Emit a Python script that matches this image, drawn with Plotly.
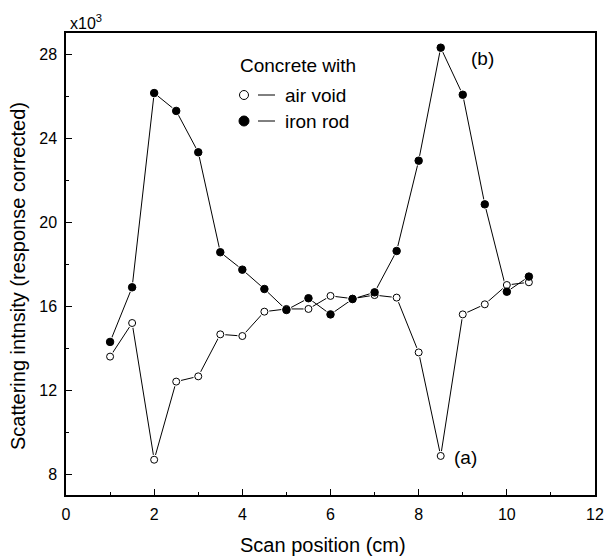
import plotly.graph_objects as go

scan_pos = [1, 1.5, 2, 2.5, 3, 3.5, 4, 4.5, 5, 5.5, 6, 6.5, 7, 7.5, 8, 8.5, 9, 9.5, 10, 10.5]
air_void = [13.59, 15.19, 8.68, 12.40, 12.65, 14.65, 14.57, 15.73, 15.86, 15.86, 16.48, 16.35,
            16.52, 16.40, 13.79, 8.86, 15.60, 16.08, 17.00, 17.13]
iron_rod = [14.29, 16.89, 26.14, 25.29, 23.32, 18.56, 17.73, 16.81, 15.81, 16.37, 15.60, 16.33,
            16.65, 18.62, 22.92, 28.30, 26.06, 20.84, 16.68, 17.40]

x_ticks = [0, 2, 4, 6, 8, 10, 12]
y_ticks = [8, 12, 16, 20, 24, 28]

FONT = "Liberation Sans, Arial, sans-serif"

W, H = 605, 557
L, R, T, B = 66, 10, 33, 62
pw, ph = W - L - R, H - T - B


def px2paper(px, py):
    return (px - L) / pw, 1 - (py - T) / ph


fig = go.Figure()

# connecting lines
for ys in (air_void, iron_rod):
    fig.add_trace(go.Scatter(x=scan_pos, y=ys, mode="lines",
                             line=dict(color="black", width=1), showlegend=False, hoverinfo="skip"))
# white halos give small gaps around the markers
for ys in (air_void, iron_rod):
    fig.add_trace(go.Scatter(x=scan_pos, y=ys, mode="markers",
                             marker=dict(symbol="circle", size=10, color="white", line=dict(width=0)),
                             showlegend=False, hoverinfo="skip"))
# markers
fig.add_trace(go.Scatter(x=scan_pos, y=air_void, mode="markers", name="air void",
                         marker=dict(symbol="circle", size=7, color="white",
                                     line=dict(color="black", width=1)), showlegend=False))
fig.add_trace(go.Scatter(x=scan_pos, y=iron_rod, mode="markers", name="iron rod",
                         marker=dict(symbol="circle", size=7.5, color="black",
                                     line=dict(color="black", width=1)), showlegend=False))

# legend-like text block
for text, px, py in (("Concrete with", 238, 65), ("air void", 283, 95), ("iron rod", 283, 121)):
    xx, yy = px2paper(px, py)
    fig.add_annotation(x=xx, y=yy, xref="paper", yref="paper", text=text, showarrow=False,
                       xanchor="left", yanchor="middle", font=dict(family=FONT, size=19, color="black"))
for py, fill in ((95, "white"), (121, "black")):
    cx, cy = px2paper(244, py)
    r = 4.5 if fill == "white" else 5
    fig.add_shape(type="circle", xref="paper", yref="paper",
                  x0=cx - r / pw, x1=cx + r / pw, y0=cy - r / ph, y1=cy + r / ph,
                  line=dict(color="black", width=1), fillcolor=fill)
    lx0, ly = px2paper(258, py)
    lx1, _ = px2paper(275, py)
    fig.add_shape(type="line", xref="paper", yref="paper", x0=lx0, x1=lx1, y0=ly, y1=ly,
                  line=dict(color="black", width=1))

# curve labels
fig.add_annotation(x=9.15, y=27.8, text="(b)", showarrow=False, xanchor="left", yanchor="middle",
                   font=dict(family=FONT, size=19, color="black"))
fig.add_annotation(x=8.75, y=8.8, text="(a)", showarrow=False, xanchor="left", yanchor="middle",
                   font=dict(family=FONT, size=19, color="black"))
# multiplier
fig.add_annotation(x=0, y=1, xref="paper", yref="paper", text="x10<sup>3</sup>", showarrow=False,
                   xanchor="left", yanchor="bottom", xshift=2, yshift=-1,
                   font=dict(family=FONT, size=16, color="black"))

# axis titles
tx, _ = px2paper(323.4, 0)
fig.add_annotation(x=tx, y=0, xref="paper", yref="paper", text="Scan position (cm)", showarrow=False,
                   xanchor="center", yanchor="middle", yshift=-50,
                   font=dict(family=FONT, size=20, color="black"))
_, ty = px2paper(0, 276)
fig.add_annotation(x=0, y=ty, xref="paper", yref="paper", text="Scattering intnsity (response corrected)",
                   showarrow=False, textangle=-90, xanchor="center", yanchor="middle", xshift=-48,
                   font=dict(family=FONT, size=20, color="black"))

fig.update_layout(
    width=W, height=H,
    margin=dict(l=L, r=R, t=T, b=B, autoexpand=False),
    paper_bgcolor="white", plot_bgcolor="white",
    font=dict(family=FONT, size=16, color="black"),
    showlegend=False,
)
fig.update_xaxes(range=[0, 12], tickvals=x_ticks, ticktext=[str(v) for v in x_ticks],
                 ticks="inside", ticklen=6, tickwidth=1, tickcolor="black",
                 minor=dict(dtick=1, ticks="inside", ticklen=3, tickcolor="black"),
                 showline=True, linecolor="black", linewidth=1.5, mirror=True,
                 showgrid=False, zeroline=False, automargin=False,
                 ticklabelstandoff=4, tickfont=dict(size=16))
fig.update_yaxes(range=[7, 29], tickvals=y_ticks, ticktext=[str(v) for v in y_ticks],
                 ticks="inside", ticklen=6, tickwidth=1, tickcolor="black",
                 minor=dict(dtick=2, ticks="inside", ticklen=3, tickcolor="black"),
                 showline=True, linecolor="black", linewidth=1.5, mirror=True,
                 showgrid=False, zeroline=False, automargin=False,
                 ticklabelstandoff=4, tickfont=dict(size=16))

fig.write_html("out.html", config={"displayModeBar": False},
               post_script="document.body.style.margin='0';document.body.style.overflow='hidden';")
